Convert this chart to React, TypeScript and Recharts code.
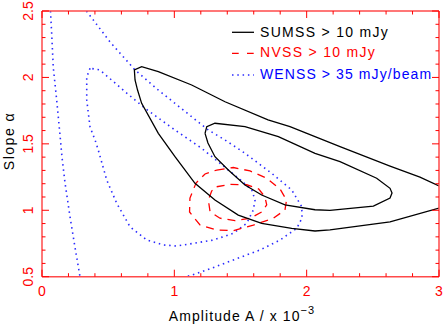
import React from 'react';
import { LineChart, Line, XAxis, YAxis, Customized } from 'recharts';

type Pt = [number, number];

const xTicks = [0, 0.2, 0.4, 0.6, 0.8, 1, 1.2, 1.4, 1.6, 1.8, 2, 2.2, 2.4, 2.6, 2.8, 3];
const yTicks = [0.5, 0.6, 0.7, 0.8, 0.9, 1, 1.1, 1.2, 1.3, 1.4, 1.5, 1.6, 1.7, 1.8, 1.9, 2, 2.1, 2.2, 2.3, 2.4, 2.5];

const sumssOuter: Pt[] = [
  [3.0, 1.183], [2.856, 1.25], [2.63, 1.333], [2.252, 1.479], [2.063, 1.554], [1.874, 1.629],
  [1.708, 1.68], [1.383, 1.817], [1.131, 1.943], [0.879, 2.043], [0.753, 2.081], [0.698, 2.056],
  [0.703, 1.981], [0.722, 1.905], [0.753, 1.805], [0.879, 1.579], [1.005, 1.403], [1.156, 1.203],
  [1.307, 1.077], [1.483, 0.964], [1.66, 0.902], [1.887, 0.864], [2.063, 0.844], [2.176, 0.852],
  [2.63, 0.912], [3.0, 1.017],
];
const sumssInner: Pt[] = [
  [1.232, 1.579], [1.245, 1.629], [1.307, 1.655], [1.534, 1.629], [1.786, 1.554], [2.063, 1.429],
  [2.252, 1.366], [2.529, 1.241], [2.63, 1.165], [2.645, 1.13], [2.63, 1.092], [2.504, 1.032],
  [2.176, 1.0], [2.063, 1.004], [1.836, 1.04], [1.66, 1.115], [1.534, 1.19], [1.408, 1.303],
  [1.307, 1.403], [1.254, 1.506], [1.232, 1.579],
];
const nvssOuter: Pt[] = [
  [1.32, 1.303], [1.446, 1.322], [1.572, 1.296], [1.698, 1.241], [1.799, 1.16], [1.848, 1.077],
  [1.836, 1.002], [1.748, 0.94], [1.597, 0.889], [1.446, 0.846], [1.32, 0.852], [1.194, 0.889],
  [1.115, 0.987], [1.118, 1.092], [1.164, 1.205], [1.232, 1.273], [1.32, 1.303],
];
const nvssInner: Pt[] = [
  [1.32, 1.177], [1.421, 1.195], [1.547, 1.192], [1.638, 1.16], [1.685, 1.1], [1.698, 1.04],
  [1.66, 0.987], [1.572, 0.94], [1.458, 0.922], [1.345, 0.94], [1.27, 0.989], [1.257, 1.077],
  [1.282, 1.145], [1.32, 1.177],
];
const wenssLeft: Pt[] = [
  [0.064, 2.5], [0.073, 2.334], [0.085, 2.078], [0.111, 1.83], [0.136, 1.567], [0.151, 1.401],
  [0.174, 1.205], [0.212, 0.949], [0.249, 0.724], [0.287, 0.5],
];
const wenssOuter: Pt[] = [
  [0.336, 2.5], [0.514, 2.267], [0.703, 2.056], [0.879, 1.905], [1.131, 1.704], [1.257, 1.604],
  [1.383, 1.529], [1.534, 1.429], [1.736, 1.278], [1.887, 1.153], [1.963, 1.027], [1.965, 0.942],
  [1.925, 0.864], [1.799, 0.776], [1.647, 0.701], [1.446, 0.626], [1.245, 0.55], [1.093, 0.5],
];
const wenssInner: Pt[] = [
  [0.363, 2.069], [0.338, 2.003], [0.338, 1.83], [0.363, 1.627], [0.401, 1.529], [0.425, 1.454],
  [0.489, 1.228], [0.565, 1.052], [0.665, 0.876], [0.791, 0.776], [0.917, 0.739], [1.018, 0.731],
  [1.143, 0.751], [1.295, 0.776], [1.446, 0.827], [1.547, 0.902], [1.597, 1.002], [1.61, 1.077],
  [1.585, 1.153], [1.519, 1.213], [1.408, 1.303], [1.207, 1.466], [1.005, 1.604], [0.778, 1.768],
  [0.627, 1.893], [0.438, 2.056], [0.363, 2.069],
];

const toRows = (pts: Pt[]) => pts.map(([a, alpha]) => ({ a, alpha }));

const FONT = '"Liberation Sans", Arial, Helvetica, sans-serif';
const TICK_RED = '#ff0000';
const AXIS_RED = '#ff4a4a';
const BLACK_C = '#000000';
const RED_C = '#ff0000';
const BLUE_C = '#2a2aff';

const isMajorX = (v: number) => Math.abs(v - Math.round(v)) < 1e-6;
const isMajorY = (v: number) => Math.abs(v * 2 - Math.round(v * 2)) < 1e-6;

const BottomTick = (props: any) => {
  const { x, y, payload } = props;
  const major = isMajorX(payload.value);
  return (
    <g>
      <line x1={x} y1={y} x2={x} y2={y - (major ? 7 : 3.5)} stroke={TICK_RED} strokeWidth={1} />
      {major && (
        <text x={x} y={y + 19} textAnchor="middle" fill={TICK_RED} fontSize={14} fontFamily={FONT}>
          {String(payload.value)}
        </text>
      )}
    </g>
  );
};
const TopTick = (props: any) => {
  const { x, y, payload } = props;
  const major = isMajorX(payload.value);
  return <line x1={x} y1={y} x2={x} y2={y + (major ? 7 : 3.5)} stroke={TICK_RED} strokeWidth={1} />;
};
const LeftTick = (props: any) => {
  const { x, y, payload } = props;
  const major = isMajorY(payload.value);
  const lx = x - 8.7;
  return (
    <g>
      <line x1={x} y1={y} x2={x + (major ? 7 : 3.5)} y2={y} stroke={TICK_RED} strokeWidth={1} />
      {major && (
        <text x={lx} y={y} transform={`rotate(-90, ${lx}, ${y})`} textAnchor="middle" fill={TICK_RED} fontSize={14} fontFamily={FONT}>
          {String(payload.value)}
        </text>
      )}
    </g>
  );
};
const RightTick = (props: any) => {
  const { x, y, payload } = props;
  const major = isMajorY(payload.value);
  return <line x1={x} y1={y} x2={x - (major ? 7 : 3.5)} y2={y} stroke={TICK_RED} strokeWidth={1} />;
};

const Overlay = () => (
  <g fontFamily={FONT} fontSize={14}>
    <line x1={232} y1={32.3} x2={254} y2={32.3} stroke={BLACK_C} strokeWidth={1.3} />
    <text x={260} y={36.5} fill={BLACK_C} letterSpacing={1.3}>SUMSS &gt; 10 mJy</text>
    <line x1={232} y1={53.3} x2={254} y2={53.3} stroke={RED_C} strokeWidth={1.3} strokeDasharray="6.7 8.3" />
    <text x={260} y={57} fill={RED_C} letterSpacing={1.3}>NVSS &gt; 10 mJy</text>
    <line x1={232} y1={75} x2={254} y2={75} stroke={BLUE_C} strokeWidth={1.5} strokeDasharray="1.5 3.8" />
    <text x={260} y={78.5} fill="#0000ff" letterSpacing={1.1}>WENSS &gt; 35 mJy/beam</text>
    <text x={13.5} y={141} transform="rotate(-90, 13.5, 141)" textAnchor="middle" fill={BLACK_C} letterSpacing={1.5}>
      Slope α
    </text>
    <text x={242} y={321} textAnchor="middle" fill={BLACK_C} letterSpacing={1.1}>
      Amplitude A / x 10<tspan dy={-7} fontSize={11}>−3</tspan>
    </text>
  </g>
);

const lineCommon = {
  type: 'linear' as const,
  dataKey: 'alpha',
  dot: false,
  activeDot: false,
  isAnimationActive: false,
  xAxisId: 'b',
  yAxisId: 'l',
};

export default function App() {
  return (
    <div style={{ position: 'absolute', left: 0, top: 0, width: 444, height: 327, background: '#fff' }}>
      <LineChart width={444} height={327} margin={{ top: 10, right: 4, bottom: 49.3, left: 41 }}>
        <XAxis xAxisId="b" dataKey="a" type="number" domain={[0, 3]} allowDataOverflow ticks={xTicks} interval={0}
          height={1} tickSize={0} tickMargin={0} tickLine={false} tick={BottomTick}
          axisLine={{ stroke: AXIS_RED, strokeWidth: 1.5 }} />
        <XAxis xAxisId="t" orientation="top" dataKey="a" type="number" domain={[0, 3]} allowDataOverflow ticks={xTicks} interval={0}
          height={1} tickSize={0} tickMargin={0} tickLine={false} tick={TopTick}
          axisLine={{ stroke: AXIS_RED, strokeWidth: 1.5 }} />
        <YAxis yAxisId="l" type="number" domain={[0.5, 2.5]} allowDataOverflow ticks={yTicks} interval={0}
          width={1} tickSize={0} tickMargin={0} tickLine={false} tick={LeftTick}
          axisLine={{ stroke: AXIS_RED, strokeWidth: 1.5 }} />
        <YAxis yAxisId="r" orientation="right" type="number" domain={[0.5, 2.5]} allowDataOverflow ticks={yTicks} interval={0}
          width={1} tickSize={0} tickMargin={0} tickLine={false} tick={RightTick}
          axisLine={{ stroke: AXIS_RED, strokeWidth: 1.5 }} />

        <Line {...lineCommon} data={toRows(wenssLeft)} stroke={BLUE_C} strokeWidth={1.6} strokeDasharray="1.5 3.8" />
        <Line {...lineCommon} data={toRows(wenssOuter)} stroke={BLUE_C} strokeWidth={1.6} strokeDasharray="1.5 3.8" />
        <Line {...lineCommon} data={toRows(wenssInner)} stroke={BLUE_C} strokeWidth={1.6} strokeDasharray="1.5 3.8" />
        <Line {...lineCommon} data={toRows(nvssOuter)} stroke={RED_C} strokeWidth={1.3} strokeDasharray="8 6" />
        <Line {...lineCommon} data={toRows(nvssInner)} stroke={RED_C} strokeWidth={1.3} strokeDasharray="8 6" />
        <Line {...lineCommon} data={toRows(sumssOuter)} stroke={BLACK_C} strokeWidth={1.3} />
        <Line {...lineCommon} data={toRows(sumssInner)} stroke={BLACK_C} strokeWidth={1.3} />

        <Customized component={Overlay} />
      </LineChart>
    </div>
  );
}
